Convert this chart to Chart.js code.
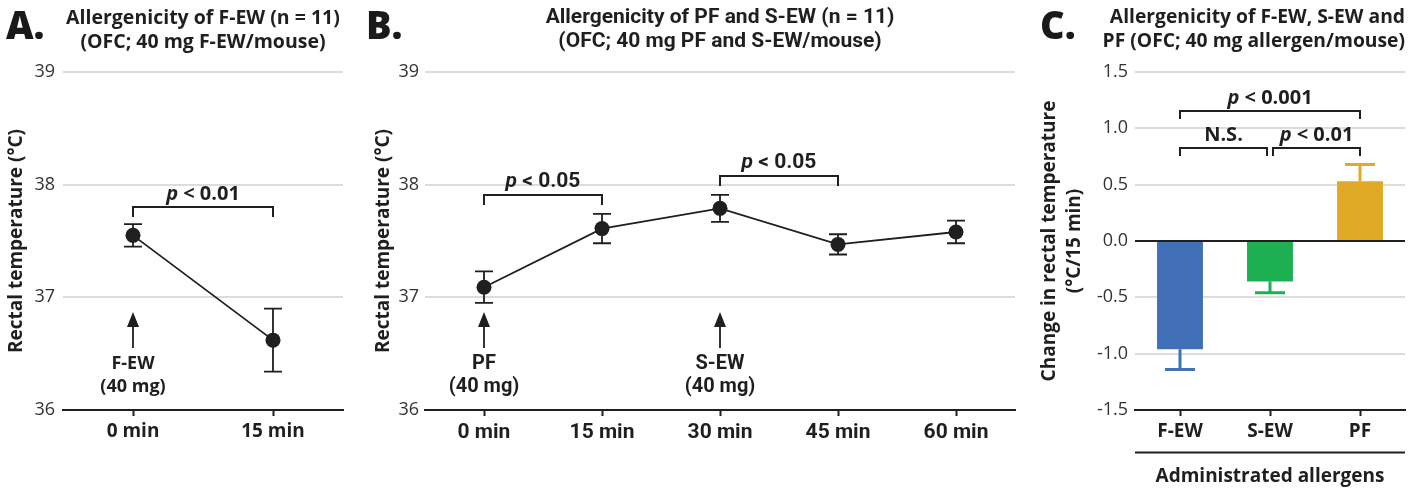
<!DOCTYPE html>
<html><head><meta charset="utf-8">
<script src="https://cdn.jsdelivr.net/npm/chart.js@4.4.1/dist/chart.umd.min.js"></script>
<style>
html,body{margin:0;padding:0;background:#fff;width:1416px;height:488px;overflow:hidden}
.panel{position:absolute;top:0;height:488px}
#pa{left:0;width:360px}
#pb{left:360px;width:670px}
#pc{left:1030px;width:386px}
.letter{position:absolute;top:2px;font-family:'Open Sans','Noto Sans',sans-serif;font-weight:800;font-size:38px;color:#1a1a1a;line-height:44px;z-index:2}
</style>
</head><body>
<div class="letter" style="left:6px">A.</div>
<div class="letter" style="left:366px">B.</div>
<div class="letter" style="left:1040px">C.</div>
<div class="panel" id="pa"><canvas id="ca"></canvas></div>
<div class="panel" id="pb"><canvas id="cb"></canvas></div>
<div class="panel" id="pc"><canvas id="cc"></canvas></div>
<script>
// ---------------- data ----------------
const panelA_categories = ['0 min', '15 min'];
const panelA_mean = [37.55, 36.62];
const panelA_sem = [0.10, 0.28];

const panelB_categories = ['0 min', '15 min', '30 min', '45 min', '60 min'];
const panelB_mean = [37.09, 37.61, 37.79, 37.47, 37.58];
const panelB_sem = [0.14, 0.13, 0.12, 0.09, 0.10];

const panelC_categories = ['F-EW', 'S-EW', 'PF'];
const panelC_change = [-0.96, -0.36, 0.53];
const panelC_sem = [0.18, 0.10, 0.15];

const tempTicks = [36, 37, 38, 39];
const changeTicks = [-1.5, -1.0, -0.5, 0.0, 0.5, 1.0, 1.5];

// ---------------- styling ----------------
const FONT = "'Open Sans','Noto Sans',sans-serif";
const FONT_B = "'Roboto','Open Sans',sans-serif";
const INK = '#1f1f1f';
const GRID = '#dcdcdc';
const barColors = ['#4170b6', '#1db052', '#e0aa26'];

// significance brackets & arrows (annotation config)
const annA = {
  brackets: [{from: 0, to: 1, y: 37.80, leg: 10, label: ['p', ' < 0.01']}],
  arrows: [{at: 0, tip: 36.87, tail: 36.55, text: ['F-EW', '(40 mg)']}]
};
const annB = {
  brackets: [
    {from: 0, to: 1, y: 37.91, leg: 10, label: ['p', ' < 0.05']},
    {from: 2, to: 3, y: 38.08, leg: 10, label: ['p', ' < 0.05']}
  ],
  arrows: [
    {at: 0, tip: 36.87, tail: 36.55, text: ['PF', '(40 mg)']},
    {at: 2, tip: 36.87, tail: 36.55, text: ['S-EW', '(40 mg)']}
  ]
};
const annC = {
  brackets: [
    {from: 0, to: 2, y: 1.153, leg: 8, label: ['p', ' < 0.001']},
    {from: 0, to: 1, y: 0.828, leg: 8, label: ['', 'N.S.'], insetR: 3},
    {from: 1, to: 2, y: 0.828, leg: 8, label: ['p', ' < 0.01'], insetL: 3}
  ],
  arrows: []
};

function setFixedTicks(values) {
  return function(scale) { scale.ticks = values.map(v => ({value: v})); };
}

function drawLabel(ctx, parts, cx, cy, size, family) {
  ctx.save();
  ctx.textBaseline = 'middle';
  ctx.fillStyle = INK;
  const f1 = 'italic 700 ' + size + 'px ' + family;
  const f2 = '700 ' + size + 'px ' + family;
  ctx.font = f1; const w1 = parts[0] ? ctx.measureText(parts[0]).width : 0;
  ctx.font = f2; const w2 = ctx.measureText(parts[1]).width;
  let x = cx - (w1 + w2) / 2;
  ctx.textAlign = 'left';
  if (parts[0]) { ctx.font = f1; ctx.fillText(parts[0], x, cy); }
  ctx.font = f2; ctx.fillText(parts[1], x + w1, cy);
  ctx.restore();
}

function annotationPlugin(ann, family, size, arrowSize) {
  return {
    id: 'ann',
    afterDraw(chart) {
      const {ctx} = chart;
      const xs = chart.scales.x, ys = chart.scales.y;
      ctx.save();
      ctx.strokeStyle = INK; ctx.lineWidth = 2;
      ann.brackets.forEach(b => {
        const x1 = xs.getPixelForValue(b.from) + (b.insetL || 0);
        const x2 = xs.getPixelForValue(b.to) - (b.insetR || 0);
        const y = Math.round(ys.getPixelForValue(b.y));
        ctx.beginPath();
        ctx.moveTo(x1, y + b.leg); ctx.lineTo(x1, y); ctx.lineTo(x2, y); ctx.lineTo(x2, y + b.leg);
        ctx.stroke();
        drawLabel(ctx, b.label, (x1 + x2) / 2, y - 13, size, family);
      });
      ann.arrows.forEach(a => {
        const x = xs.getPixelForValue(a.at);
        const yt = ys.getPixelForValue(a.tip), yb = ys.getPixelForValue(a.tail);
        ctx.lineWidth = 1.8;
        ctx.beginPath(); ctx.moveTo(x, yb); ctx.lineTo(x, yt + 10); ctx.stroke();
        ctx.fillStyle = INK;
        ctx.beginPath(); ctx.moveTo(x, yt); ctx.lineTo(x - 6, yt + 15); ctx.lineTo(x + 6, yt + 15); ctx.closePath(); ctx.fill();
        ctx.font = '700 ' + arrowSize + 'px ' + family;
        ctx.textAlign = 'center'; ctx.textBaseline = 'middle';
        ctx.fillText(a.text[0], x, yb + 16);
        ctx.fillText(a.text[1], x, yb + 39);
      });
      ctx.restore();
    }
  };
}

function errorPlugin(sem, mode) {
  return {
    id: 'err',
    beforeDatasetsDraw(chart) {
      if (mode !== 'point') return;
      const {ctx} = chart; const ys = chart.scales.y;
      const meta = chart.getDatasetMeta(0);
      const vals = chart.data.datasets[0].data;
      ctx.save(); ctx.strokeStyle = INK; ctx.lineWidth = 1.8;
      meta.data.forEach((el, i) => {
        const x = el.x;
        const yt = ys.getPixelForValue(vals[i] + sem[i]);
        const yb = ys.getPixelForValue(vals[i] - sem[i]);
        ctx.beginPath();
        ctx.moveTo(x, yt); ctx.lineTo(x, yb);
        ctx.moveTo(x - 9, yt); ctx.lineTo(x + 9, yt);
        ctx.moveTo(x - 9, yb); ctx.lineTo(x + 9, yb);
        ctx.stroke();
      });
      ctx.restore();
    },
    afterDatasetsDraw(chart) {
      if (mode !== 'bar') return;
      const {ctx} = chart; const ys = chart.scales.y;
      const meta = chart.getDatasetMeta(0);
      const vals = chart.data.datasets[0].data;
      ctx.save(); ctx.lineWidth = 3;
      meta.data.forEach((el, i) => {
        const x = el.x;
        const v = vals[i];
        const end = v >= 0 ? v + sem[i] : v - sem[i];
        const y0 = ys.getPixelForValue(v), y1 = ys.getPixelForValue(end);
        ctx.strokeStyle = barColors[i];
        ctx.beginPath();
        ctx.moveTo(x, y0); ctx.lineTo(x, y1);
        ctx.moveTo(x - 15, y1); ctx.lineTo(x + 15, y1);
        ctx.stroke();
      });
      ctx.restore();
    }
  };
}

const cAxisPlugin = {
  id: 'cAxisLine',
  afterDraw(chart) {
    const {ctx, chartArea} = chart; const xs = chart.scales.x;
    ctx.save(); ctx.strokeStyle = INK; ctx.lineWidth = 2;
    ctx.beginPath(); ctx.moveTo(chartArea.left, xs.top + 42.5); ctx.lineTo(chartArea.right, xs.top + 42.5); ctx.stroke();
    ctx.restore();
  }
};

function makeOptions(cfg) {
  return {
    responsive: false,
    animation: false,
    devicePixelRatio: 1,
    layout: {padding: {left: 0, right: cfg.padRight, top: 0, bottom: 0}},
    plugins: {
      legend: {display: false},
      tooltip: {enabled: false},
      title: {
        display: true, text: cfg.title, fullSize: !!cfg.titleFull, align: cfg.titleAlign || 'center',
        color: INK, font: {family: cfg.family, size: cfg.titleSize, weight: '700', lineHeight: '24px'},
        padding: {top: 6, bottom: 18}
      }
    },
    scales: {
      x: {
        type: 'category',
        offset: true,
        afterFit(s) { s.height = 78; },
        grid: {display: true, drawOnChartArea: false, offset: false, tickLength: 6, tickColor: INK, tickWidth: 2},
        border: {display: true, color: INK, width: 2},
        ticks: {color: INK, padding: 4, font: {family: cfg.family, size: cfg.tickSize, weight: '700'}},
        title: cfg.xTitle ? {display: true, text: cfg.xTitle, color: INK, padding: {top: 0, bottom: 0},
                font: {family: FONT, size: 19, weight: '700', lineHeight: '22px'}} : {display: false}
      },
      y: {
        type: 'linear',
        min: cfg.min, max: cfg.max,
        afterFit(s) { s.width = cfg.yWidth; },
        afterBuildTicks: setFixedTicks(cfg.yTicks),
        grid: {drawTicks: false, lineWidth: 2,
               color: c => (c.tick && c.tick.value === 0 && cfg.zeroLine) ? INK : GRID},
        border: {display: false},
        ticks: {color: '#333', padding: cfg.yPad,
                font: {family: FONT, size: 18, weight: '400'},
                callback: cfg.yFmt || (v => String(v))},
        title: {display: true, text: cfg.yTitle, color: INK, padding: {top: cfg.yTitlePad, bottom: 0},
                font: {family: FONT, size: 19, weight: '700', lineHeight: '25px'}}
      }
    }
  };
}

function sizeCanvas(id, w) {
  const c = document.getElementById(id); c.width = w; c.height = 488;
  c.style.width = w + 'px'; c.style.height = '488px';
  return c;
}

// Panel A
new Chart(sizeCanvas('ca', 360), {
  type: 'line',
  data: {labels: panelA_categories, datasets: [{data: panelA_mean, borderColor: INK, borderWidth: 1.8,
        pointRadius: 7.5, pointBackgroundColor: INK, pointBorderColor: INK, pointBorderWidth: 0, tension: 0}]},
  options: makeOptions({padRight: 17, title: ['Allergenicity of F-EW (n = 11)', '(OFC; 40 mg F-EW/mouse)'],
    family: FONT, titleSize: 19.5, tickSize: 19, min: 36, max: 39, yTicks: tempTicks, yWidth: 63, yPad: 8,
    yTitle: 'Rectal temperature (°C)', yTitlePad: 4}),
  plugins: [errorPlugin(panelA_sem, 'point'), annotationPlugin(annA, FONT, 20, 18)]
});

// Panel B
new Chart(sizeCanvas('cb', 670), {
  type: 'line',
  data: {labels: panelB_categories, datasets: [{data: panelB_mean, borderColor: INK, borderWidth: 1.8,
        pointRadius: 7.5, pointBackgroundColor: INK, pointBorderColor: INK, pointBorderWidth: 0, tension: 0}]},
  options: makeOptions({padRight: 15, title: ['Allergenicity of PF and S-EW (n = 11)', '(OFC; 40 mg PF and S-EW/mouse)'],
    family: FONT_B, titleSize: 21, tickSize: 21, min: 36, max: 39, yTicks: tempTicks, yWidth: 65, yPad: 6,
    yTitle: 'Rectal temperature (°C)', yTitlePad: 11}),
  plugins: [errorPlugin(panelB_sem, 'point'), annotationPlugin(annB, FONT_B, 21, 20)]
});

// Panel C
new Chart(sizeCanvas('cc', 386), {
  type: 'bar',
  data: {labels: panelC_categories, datasets: [{data: panelC_change, backgroundColor: barColors,
        borderWidth: 0, categoryPercentage: 0.51, barPercentage: 1}]},
  options: makeOptions({padRight: 11, title: ['Allergenicity of F-EW, S-EW and', 'PF (OFC; 40 mg allergen/mouse)'],
    titleAlign: 'end', titleFull: true, family: FONT, titleSize: 19.3, tickSize: 19, min: -1.5, max: 1.5, yTicks: changeTicks,
    yWidth: 105, yPad: 7, zeroLine: true, yFmt: v => v.toFixed(1),
    yTitle: ['Change in rectal temperature', '(°C/15 min)'], yTitlePad: 7, xTitle: 'Administrated allergens'}),
  plugins: [errorPlugin(panelC_sem, 'bar'), annotationPlugin(annC, FONT, 20, 18), cAxisPlugin]
});
</script>
</body></html>
